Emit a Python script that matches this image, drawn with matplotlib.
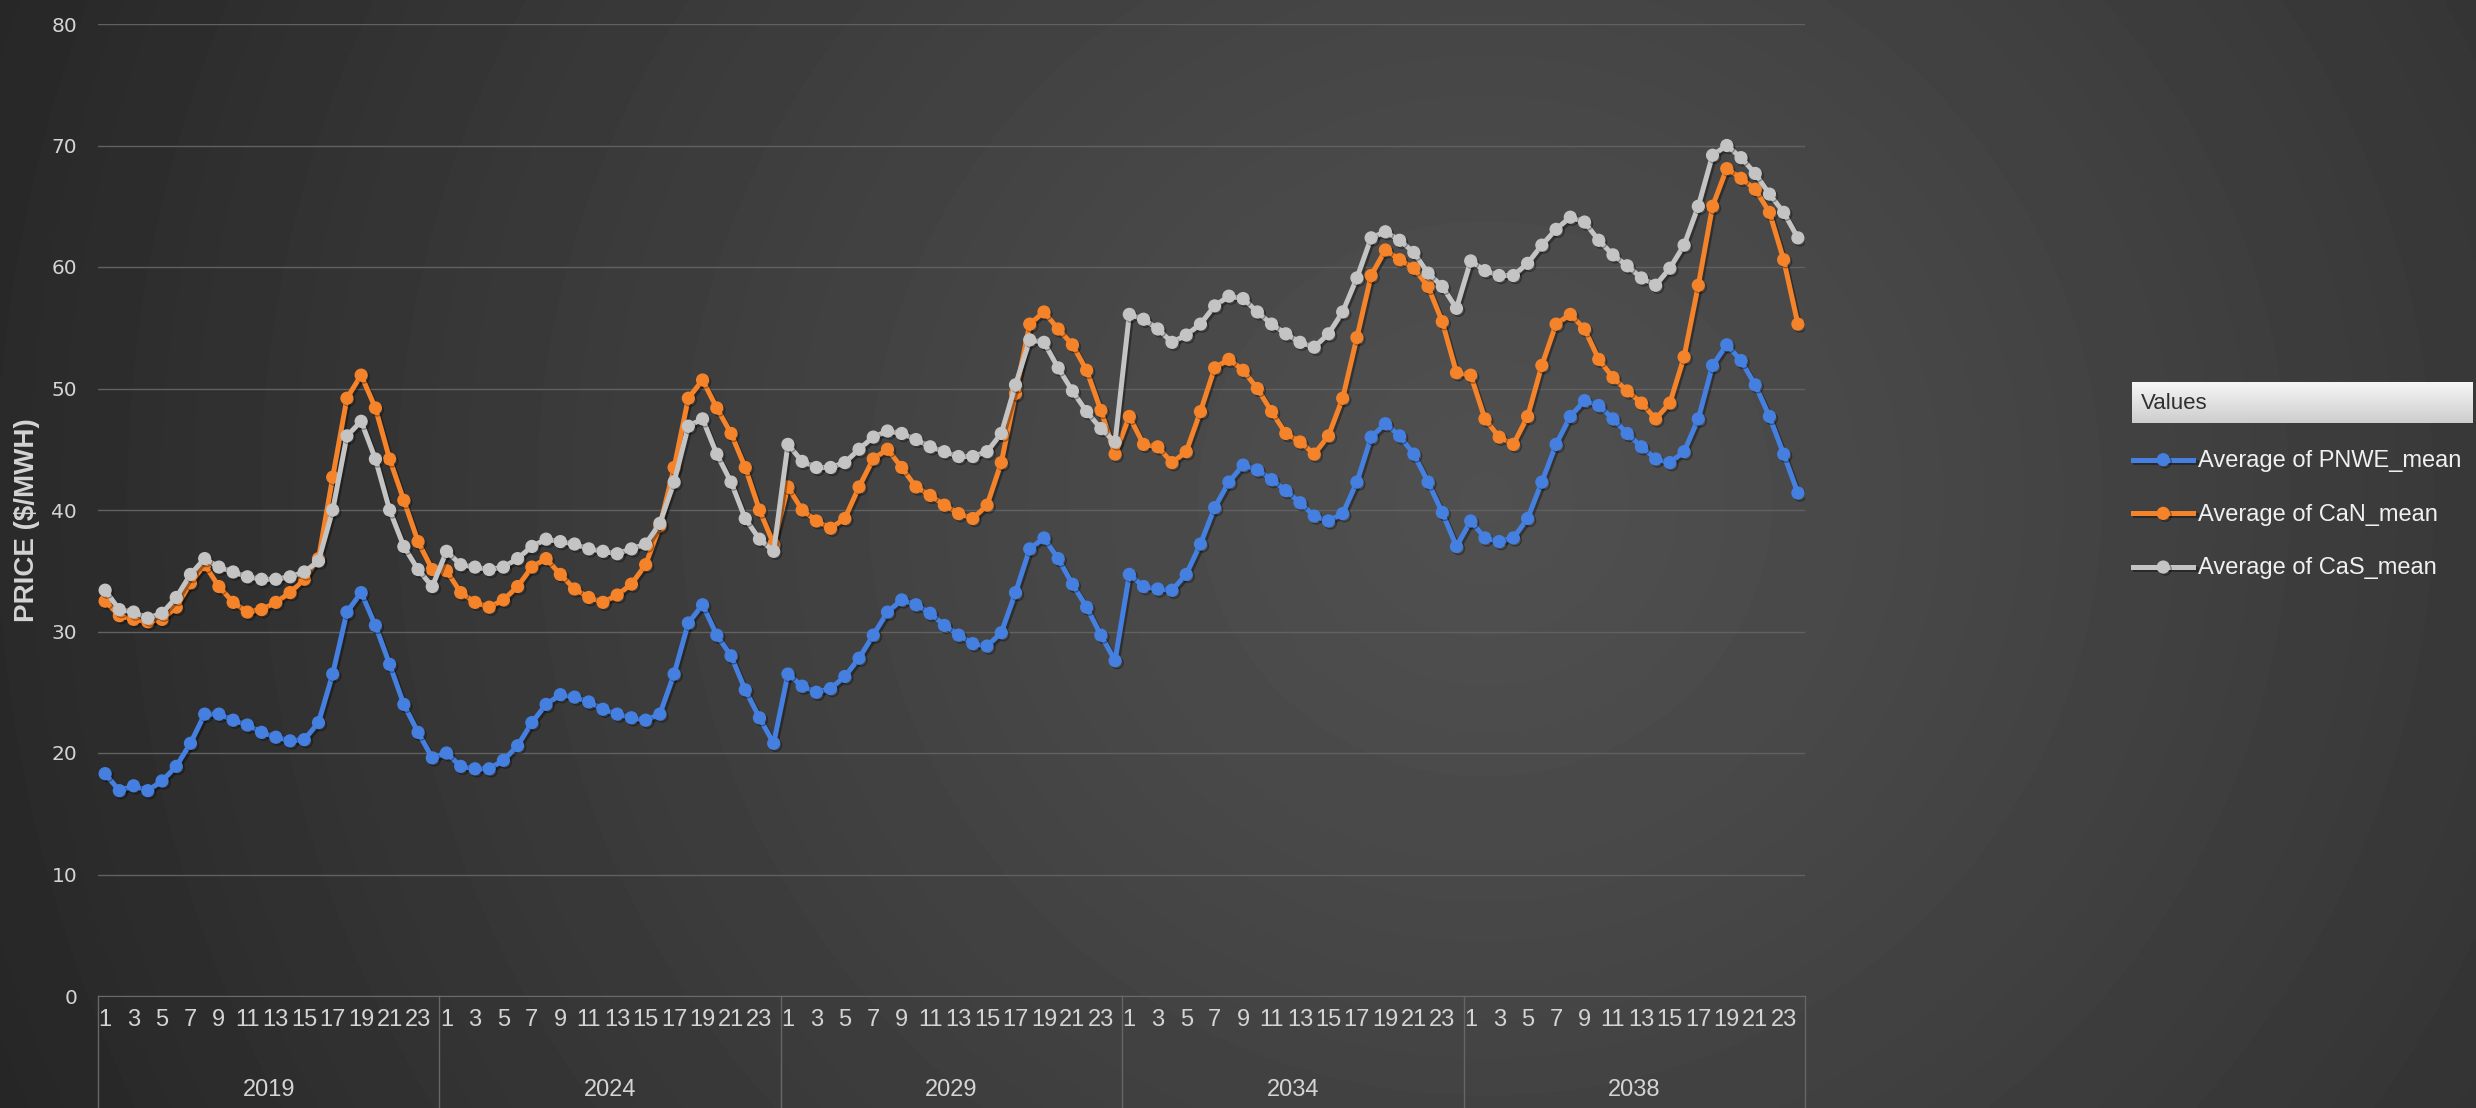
import numpy as np
import matplotlib
matplotlib.use("Agg")
import matplotlib.pyplot as plt
import matplotlib.transforms as mtransforms
import matplotlib.patheffects as pe

years = ["2019", "2024", "2029", "2034", "2038"]
hours = list(range(1, 25))

# hourly average price per year, 24 values per row
pnwe_mean = [
    18.3, 16.9, 17.3, 16.9, 17.7, 18.9, 20.8, 23.2, 23.2, 22.7, 22.3, 21.7, 21.3, 21.0, 21.1, 22.5, 26.5, 31.6, 33.2, 30.5, 27.3, 24.0, 21.7, 19.6,
    20.0, 18.9, 18.7, 18.7, 19.4, 20.6, 22.5, 24.0, 24.8, 24.6, 24.2, 23.6, 23.2, 22.9, 22.7, 23.2, 26.5, 30.7, 32.2, 29.7, 28.0, 25.2, 22.9, 20.8,
    26.5, 25.5, 25.0, 25.3, 26.3, 27.8, 29.7, 31.6, 32.6, 32.2, 31.5, 30.5, 29.7, 29.0, 28.8, 29.9, 33.2, 36.8, 37.7, 36.0, 33.9, 32.0, 29.7, 27.6,
    34.7, 33.7, 33.5, 33.4, 34.7, 37.2, 40.2, 42.3, 43.7, 43.3, 42.5, 41.6, 40.6, 39.5, 39.1, 39.7, 42.3, 46.0, 47.1, 46.1, 44.6, 42.3, 39.8, 37.0,
    39.1, 37.7, 37.4, 37.7, 39.3, 42.3, 45.4, 47.7, 49.0, 48.6, 47.5, 46.3, 45.2, 44.2, 43.9, 44.8, 47.5, 51.9, 53.6, 52.3, 50.3, 47.7, 44.6, 41.4,
]
can_mean = [
    32.5, 31.3, 31.0, 30.8, 31.0, 32.0, 34.0, 35.5, 33.7, 32.4, 31.6, 31.8, 32.4, 33.2, 34.3, 36.0, 42.7, 49.2, 51.1, 48.4, 44.2, 40.8, 37.4, 35.1,
    35.0, 33.2, 32.4, 32.0, 32.6, 33.7, 35.3, 36.0, 34.7, 33.5, 32.8, 32.4, 33.0, 33.9, 35.5, 38.7, 43.5, 49.2, 50.7, 48.4, 46.3, 43.5, 40.0, 37.2,
    41.9, 40.0, 39.1, 38.5, 39.3, 41.9, 44.2, 45.0, 43.5, 41.9, 41.2, 40.4, 39.7, 39.3, 40.4, 43.9, 49.6, 55.3, 56.3, 54.9, 53.6, 51.5, 48.2, 44.6,
    47.7, 45.4, 45.2, 43.9, 44.8, 48.1, 51.7, 52.4, 51.5, 50.0, 48.1, 46.3, 45.6, 44.6, 46.1, 49.2, 54.2, 59.3, 61.4, 60.6, 59.9, 58.4, 55.5, 51.3,
    51.1, 47.5, 46.0, 45.4, 47.7, 51.9, 55.3, 56.1, 54.9, 52.4, 50.9, 49.8, 48.8, 47.5, 48.8, 52.6, 58.5, 65.0, 68.1, 67.3, 66.4, 64.5, 60.6, 55.3,
]
cas_mean = [
    33.4, 31.8, 31.6, 31.1, 31.5, 32.8, 34.7, 36.0, 35.3, 34.9, 34.5, 34.3, 34.3, 34.5, 34.9, 35.8, 40.0, 46.1, 47.3, 44.2, 40.0, 37.0, 35.1, 33.7,
    36.6, 35.5, 35.3, 35.1, 35.3, 36.0, 37.0, 37.6, 37.4, 37.2, 36.8, 36.6, 36.4, 36.8, 37.2, 38.9, 42.3, 46.9, 47.5, 44.6, 42.3, 39.3, 37.6, 36.6,
    45.4, 44.0, 43.5, 43.5, 43.9, 45.0, 46.0, 46.5, 46.3, 45.8, 45.2, 44.8, 44.4, 44.4, 44.8, 46.3, 50.3, 54.0, 53.8, 51.7, 49.8, 48.1, 46.7, 45.6,
    56.1, 55.7, 54.9, 53.8, 54.4, 55.3, 56.8, 57.6, 57.4, 56.3, 55.3, 54.5, 53.8, 53.4, 54.5, 56.3, 59.1, 62.4, 62.9, 62.2, 61.2, 59.5, 58.4, 56.6,
    60.5, 59.7, 59.3, 59.3, 60.3, 61.8, 63.1, 64.1, 63.7, 62.2, 61.0, 60.1, 59.1, 58.5, 59.9, 61.8, 65.0, 69.2, 70.0, 69.0, 67.7, 66.0, 64.5, 62.4,
]

series = [
    ("Average of PNWE_mean", pnwe_mean, "#4580e0"),
    ("Average of CaN_mean", can_mean, "#f5832a"),
    ("Average of CaS_mean", cas_mean, "#c4c4c4"),
]

narrow = ["Liberation Sans Narrow", "Liberation Sans", "DejaVu Sans"]

fig = plt.figure(figsize=(24.76, 11.08), dpi=100)

# dark radial background
bg = fig.add_axes([0, 0, 1, 1], zorder=-10)
gx, gy = np.meshgrid(np.linspace(0, 1, 600), np.linspace(1, 0, 300))
r = np.sqrt(((gx - 0.6) / 0.6) ** 2 + ((gy - 0.55) / 1.3) ** 2)
shade = np.clip(80 - 38 * r ** 1.2, 30, 80)
bg.imshow(shade, cmap="gray", vmin=0, vmax=255, aspect="auto", extent=[0, 1, 0, 1], interpolation="bilinear")
bg.axis("off")

ax = fig.add_axes([98 / 2476, 112 / 1108, 1707 / 2476, 972 / 1108])
ax.set_facecolor("none")

n = len(years) * len(hours)
x = np.arange(n)
shadow = [pe.SimpleLineShadow(offset=(1.5, -1.5), shadow_color="black", alpha=0.35), pe.Normal()]
for label, vals, color in series:
    ax.plot(x, vals, color=color, lw=3.6, marker="o", markersize=8.5,
            markeredgecolor=color, label=label, path_effects=shadow)

ax.set_xlim(-0.5, n - 0.5)
ax.set_ylim(0, 80)
ax.set_yticks(range(0, 81, 10))
ax.grid(axis="y", color="#616161", lw=1.0)
ax.set_axisbelow(True)
for side in ["top", "right", "left"]:
    ax.spines[side].set_visible(False)
ax.spines["bottom"].set_color("#6a6a6a")
ax.tick_params(axis="y", length=0, pad=15, labelsize=14.5, labelcolor="#d4d4d4")

# odd hours as tick labels, repeated for each year
tick_pos = [g * 24 + h - 1 for g in range(len(years)) for h in hours if h % 2 == 1]
tick_lab = [str(h) for g in range(len(years)) for h in hours if h % 2 == 1]
ax.set_xticks(tick_pos)
ax.set_xticklabels(tick_lab, family=narrow, fontsize=17, color="#d4d4d4")
ax.tick_params(axis="x", length=0, pad=9)

# year group labels and separators under the axis
trans = mtransforms.blended_transform_factory(ax.transData, ax.transAxes)
for g, yr in enumerate(years):
    ax.text(g * 24 + 11.5, -0.097, yr, transform=trans, ha="center", va="center",
            family=narrow, fontsize=17, color="#d4d4d4")
for b in range(len(years) + 1):
    ax.plot([b * 24 - 0.5, b * 24 - 0.5], [0, -0.116], transform=trans,
            color="#666666", lw=1.0, clip_on=False)

fig.text(27 / 2476, 0.531, "PRICE ($/MWH)", rotation=90, ha="center", va="center",
         family=narrow, fontweight="bold", fontsize=20, color="#d4d4d4")

# legend header bar
hdr = fig.add_axes([2132 / 2476, 685 / 1108, 341 / 2476, 41 / 1108])
hdr.imshow(np.linspace(245, 205, 50).reshape(-1, 1), cmap="gray", vmin=0, vmax=255,
           aspect="auto", extent=[0, 1, 0, 1])
hdr.axis("off")
hdr.text(0.025, 0.48, "Values", transform=hdr.transAxes, ha="left", va="center",
         family=narrow, fontsize=16, color="#303030")

leg = ax.legend(loc="upper left", bbox_to_anchor=(2133 / 2476, 658 / 1108),
                bbox_transform=fig.transFigure, frameon=False, fontsize=15,
                handlelength=2.9, handletextpad=0.2, labelspacing=1.52,
                borderpad=0, borderaxespad=0, numpoints=1)
for t in leg.get_texts():
    t.set_color("#f0f0f0")
    t.set_family(narrow)
    t.set_fontsize(17)

fig.savefig("out.png", dpi=100)
